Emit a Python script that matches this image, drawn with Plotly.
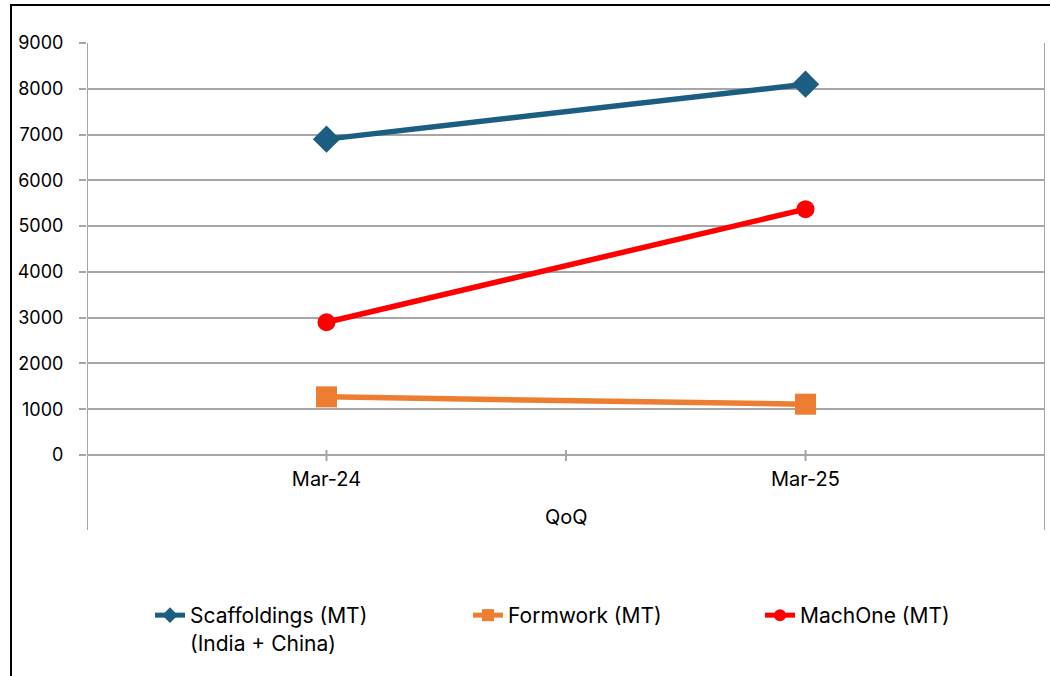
import plotly.graph_objects as go

categories = ["Mar-24", "Mar-25"]
scaffoldings = [6900, 8100]
formwork = [1270, 1110]
machone = [2900, 5370]
series_names = ["Scaffoldings (MT)<br>(India + China)", "Formwork (MT)", "MachOne (MT)"]
y_ticks = [0, 1000, 2000, 3000, 4000, 5000, 6000, 7000, 8000, 9000]

W, H = 1050, 676
L, R, T, B = 87, 5, 43, 221
PW = W - L - R
PH = H - T - B

def px_x(px):
    return (px - L) / PW

def px_y(py):
    return (H - B - py) / PH

FONT = "Inter, Open Sans, sans-serif"
GRAY = "#A6A6A6"

fig = go.Figure()
fig.add_trace(go.Scatter(x=categories, y=scaffoldings, name=series_names[0], mode="lines+markers",
                         line=dict(color="#1B5E82", width=5.5),
                         marker=dict(symbol="diamond", size=21, color="#1B5E82"),
                         legend="legend", showlegend=True))
fig.add_trace(go.Scatter(x=categories, y=formwork, name=series_names[1], mode="lines+markers",
                         line=dict(color="#ED7D31", width=5.5),
                         marker=dict(symbol="square", size=21, color="#ED7D31"),
                         legend="legend2", showlegend=True))
fig.add_trace(go.Scatter(x=categories, y=machone, name=series_names[2], mode="lines+markers",
                         line=dict(color="#FF0000", width=5.5),
                         marker=dict(symbol="circle", size=18, color="#FF0000"),
                         legend="legend3", showlegend=True))

shapes = []
# category tick marks crossing the axis
for xv in [0, 0.5, 1]:
    shapes.append(dict(type="line", xref="x", yref="paper", x0=xv, x1=xv,
                       y0=px_y(461), y1=px_y(450), line=dict(color=GRAY, width=2)))
# vertical boundary lines of multi-level axis
for xv in [-0.5, 1.5]:
    shapes.append(dict(type="line", xref="x", yref="paper", x0=xv, x1=xv,
                       y0=px_y(530), y1=px_y(43), line=dict(color=GRAY, width=2)))
# chart border (left and top)
shapes.append(dict(type="line", xref="paper", yref="paper", x0=px_x(11), x1=px_x(11),
                   y0=px_y(5), y1=px_y(690), line=dict(color="black", width=2)))
shapes.append(dict(type="line", xref="paper", yref="paper", x0=px_x(10), x1=px_x(1060),
                   y0=px_y(5), y1=px_y(5), line=dict(color="black", width=2)))

legend_common = dict(orientation="v", font=dict(family=FONT, size=21, color="#000000"),
                     bgcolor="rgba(0,0,0,0)", xanchor="left", yanchor="top",
                     itemsizing="constant", valign="top", tracegroupgap=0, visible=True)

fig.update_layout(
    width=W, height=H,
    showlegend=True,
    margin=dict(l=L, r=R, t=T, b=B, autoexpand=False),
    paper_bgcolor="white", plot_bgcolor="white",
    font=dict(family=FONT, size=18, color="#000000"),
    xaxis=dict(type="category", range=[-0.5, 1.5], showgrid=False, ticks="",
               showline=False, zeroline=False, ticklabelstandoff=10,
               tickfont=dict(family=FONT, size=20)),
    yaxis=dict(range=[0, 9000], tickvals=y_ticks, showgrid=True, gridcolor=GRAY, gridwidth=2,
               ticks="outside", ticklen=7, tickcolor=GRAY, tickwidth=2,
               showline=False, zeroline=True, zerolinecolor=GRAY, zerolinewidth=2,
               ticklabelstandoff=12, tickfont=dict(family=FONT, size=18)),
    shapes=shapes,
    annotations=[dict(text="QoQ", xref="paper", yref="paper", x=0.5, y=px_y(517),
                      xanchor="center", yanchor="middle", showarrow=False,
                      font=dict(family=FONT, size=20))],
    legend=dict(x=px_x(150), y=px_y(595), **legend_common),
    legend2=dict(x=px_x(468), y=px_y(595), **legend_common),
    legend3=dict(x=px_x(760), y=px_y(595), **legend_common),
)

fig.write_html("out.html", config={"displayModeBar": False},
               post_script="document.body.style.margin='0';")
